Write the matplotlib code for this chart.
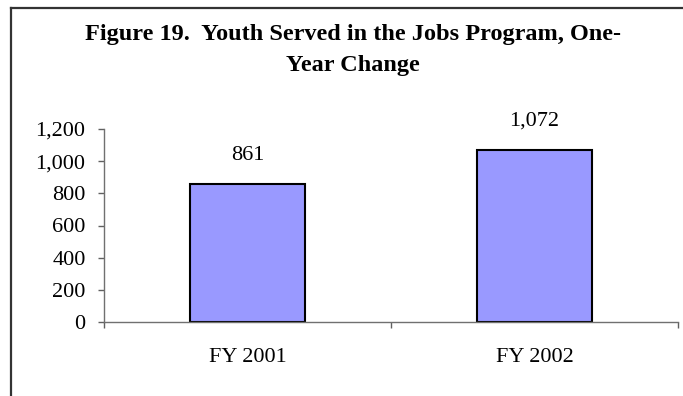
import matplotlib.pyplot as plt
from matplotlib.lines import Line2D

categories = ["FY 2001", "FY 2002"]
youth_served = [861, 1072]
y_ticks = [0, 200, 400, 600, 800, 1000, 1200]

SERIF = "Liberation Serif"

fig = plt.figure(figsize=(6.83, 3.96), dpi=100)
W, H = 683, 396

# outer chart-area border (only left and top edges fall inside the crop)
fig.add_artist(Line2D([11 / W, 11 / W], [0, 1 - 8 / H], transform=fig.transFigure,
                      color="#333333", linewidth=1.6))
fig.add_artist(Line2D([11 / W, 1], [1 - 8 / H, 1 - 8 / H], transform=fig.transFigure,
                      color="#333333", linewidth=1.6))

fig.text(353 / W, 1 - 40 / H, "Figure 19.  Youth Served in the Jobs Program, One-",
         ha="center", va="baseline", fontsize=17.5, fontweight="bold", family=SERIF)
fig.text(353 / W, 1 - 71 / H, "Year Change",
         ha="center", va="baseline", fontsize=17.5, fontweight="bold", family=SERIF)

ax = fig.add_axes([104 / W, 1 - 322 / H, (678 - 104) / W, (322 - 129) / H])
x = range(len(categories))
bars = ax.bar(x, youth_served, width=0.4, color="#9999FF", edgecolor="black", linewidth=1.5)

for rect, value in zip(bars, youth_served):
    ax.annotate(f"{value:,}", (rect.get_x() + rect.get_width() / 2, value),
                xytext=(0, 13.5), textcoords="offset points",
                ha="center", va="bottom", fontsize=16, family=SERIF)

ax.set_xlim(-0.5, 1.5)
ax.set_ylim(0, 1200)
ax.set_yticks(y_ticks)
ax.set_yticklabels([f"{v:,}" for v in y_ticks], fontsize=16, family=SERIF)
ax.set_xticks(list(x))
ax.set_xticklabels(categories, fontsize=16, family=SERIF)
ax.set_xticks([-0.5, 0.5, 1.5], minor=True)

ax.tick_params(axis="y", direction="out", length=4.3, width=1, color="#606060", pad=9)
ax.tick_params(axis="x", which="major", length=0, pad=18.5)
ax.tick_params(axis="x", which="minor", direction="out", length=4.5, width=1, color="#606060")

for side in ("top", "right"):
    ax.spines[side].set_visible(False)
for side in ("left", "bottom"):
    ax.spines[side].set_color("#707070")
    ax.spines[side].set_linewidth(1)

fig.savefig("out.png", dpi=100)
